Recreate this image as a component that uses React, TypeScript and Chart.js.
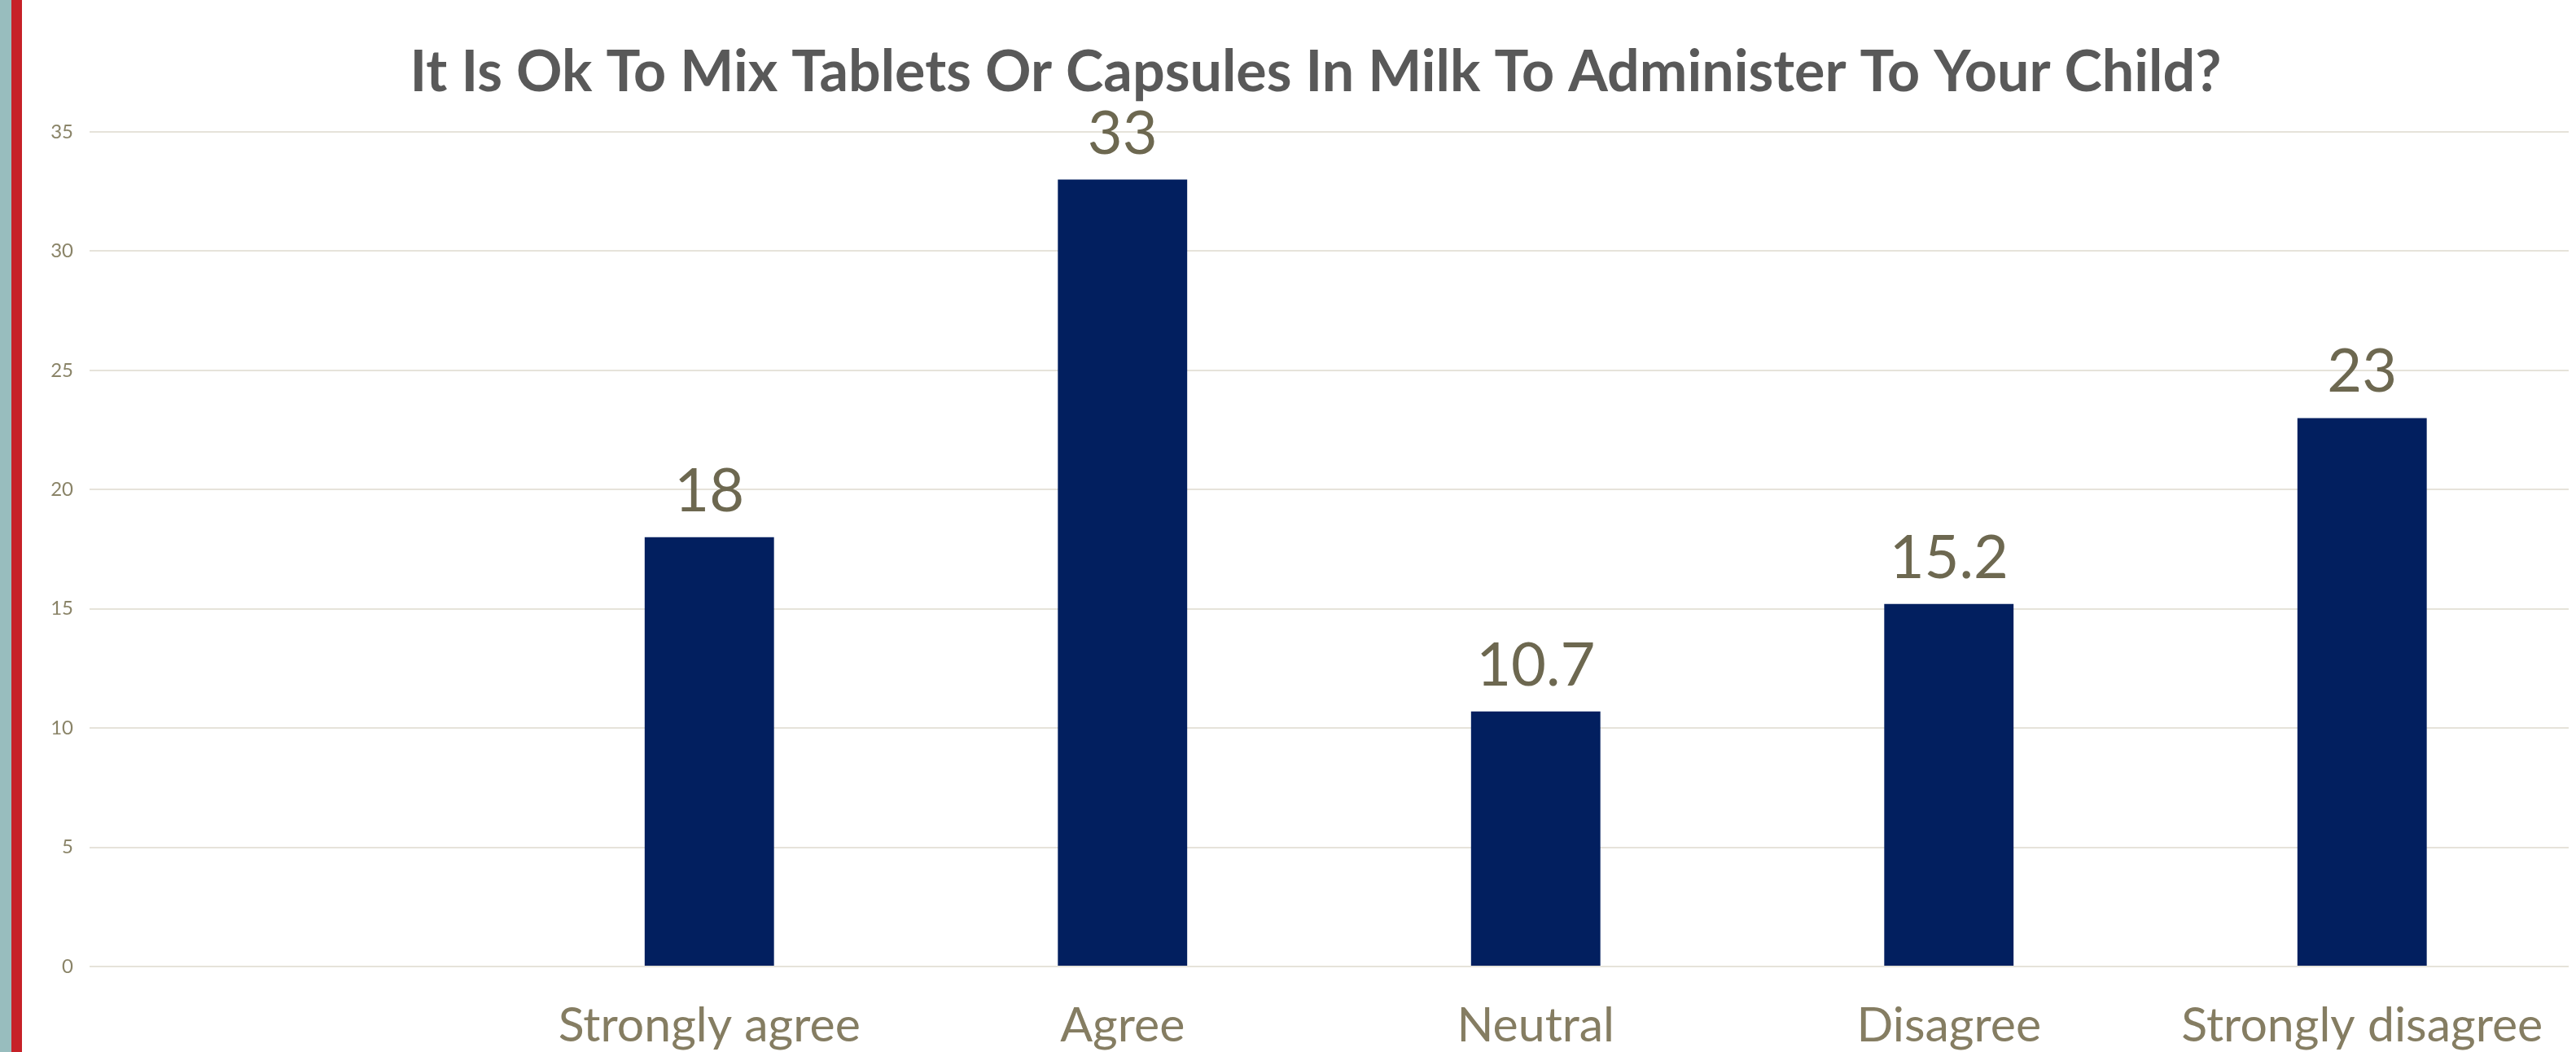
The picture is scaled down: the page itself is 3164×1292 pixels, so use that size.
import React, { useEffect, useRef } from "react";
import { Chart, registerables } from "chart.js";

Chart.register(...registerables);

const TITLE = "It Is Ok To Mix Tablets Or Capsules In Milk To Administer To Your Child?";
const categories = ["", "Strongly agree", "Agree", "Neutral", "Disagree", "Strongly disagree"];
const values: (number | null)[] = [null, 18, 33, 10.7, 15.2, 23];
const yMin = 0;
const yMax = 35;
const yStep = 5;

const FONT = "Lato";

const valueLabels = {
  id: "valueLabels",
  afterDatasetsDraw(chart: any) {
    const ctx = chart.ctx;
    const meta = chart.getDatasetMeta(0);
    ctx.save();
    ctx.font = `400 74px ${FONT}`;
    ctx.fillStyle = "#6d6850";
    ctx.textAlign = "center";
    ctx.textBaseline = "alphabetic";
    meta.data.forEach((el: any, i: number) => {
      const v = values[i];
      if (v == null) return;
      ctx.fillText(String(v), el.x, el.y - 32);
    });
    ctx.restore();
  },
};

const titlePlugin = {
  id: "offsetTitle",
  afterDraw(chart: any) {
    const ctx = chart.ctx;
    ctx.save();
    ctx.font = `bold 70px ${FONT}`;
    ctx.fillStyle = "#595959";
    ctx.textAlign = "center";
    ctx.textBaseline = "alphabetic";
    ctx.fillText(TITLE, 1589, 112);
    ctx.restore();
  },
};

export default function App() {
  const ref = useRef<HTMLCanvasElement | null>(null);

  useEffect(() => {
    let chart: Chart | null = null;
    let cancelled = false;
    const make = () => {
      if (cancelled || !ref.current) return;
      chart = new Chart(ref.current, {
        type: "bar",
        data: {
          labels: categories,
          datasets: [
            {
              data: values as any,
              backgroundColor: "#021F5F",
              borderWidth: 0,
              categoryPercentage: 1,
              barPercentage: 0.313,
            },
          ],
        },
        options: {
          animation: false,
          responsive: false,
          devicePixelRatio: 1,
          layout: { padding: { left: 0, right: 9, top: 162, bottom: 0 } },
          plugins: {
            legend: { display: false },
            tooltip: { enabled: false },
            title: { display: false },
          },
          scales: {
            x: {
              grid: { display: false, drawTicks: false },
              border: { display: false },
              ticks: {
                color: "#857d62",
                font: { family: FONT, size: 59, lineHeight: 1.2 },
                padding: 38,
                maxRotation: 0,
                autoSkip: false,
              },
              afterFit: (s: any) => {
                s.height = 105;
              },
            },
            y: {
              min: yMin,
              max: yMax,
              grid: { color: "#e6e3da", lineWidth: 2, drawTicks: false },
              border: { display: false },
              ticks: {
                stepSize: yStep,
                color: "#8a8468",
                font: { family: FONT, size: 24 },
                padding: 20,
              },
              afterFit: (s: any) => {
                s.width = 83;
              },
            },
          },
        },
        plugins: [valueLabels, titlePlugin],
      });
    };
    const fontsReady = (document as any).fonts
      ? Promise.all([
          (document as any).fonts.load(`bold 70px ${FONT}`),
          (document as any).fonts.load(`400 59px ${FONT}`),
        ]).catch(() => null)
      : Promise.resolve();
    fontsReady.then(make);
    return () => {
      cancelled = true;
      if (chart) chart.destroy();
    };
  }, []);

  return (
    <div
      style={{
        position: "fixed",
        left: 0,
        top: 0,
        width: 3164,
        height: 1292,
        background: "#ffffff",
        overflow: "hidden",
      }}
    >
      <div style={{ position: "absolute", left: 0, top: 0, width: 14, height: 1292, background: "#98BDBE" }} />
      <div style={{ position: "absolute", left: 14, top: 0, width: 13, height: 1292, background: "#C62128" }} />
      <canvas
        ref={ref}
        width={3137}
        height={1292}
        style={{ position: "absolute", left: 27, top: 0, width: 3137, height: 1292 }}
      />
    </div>
  );
}
